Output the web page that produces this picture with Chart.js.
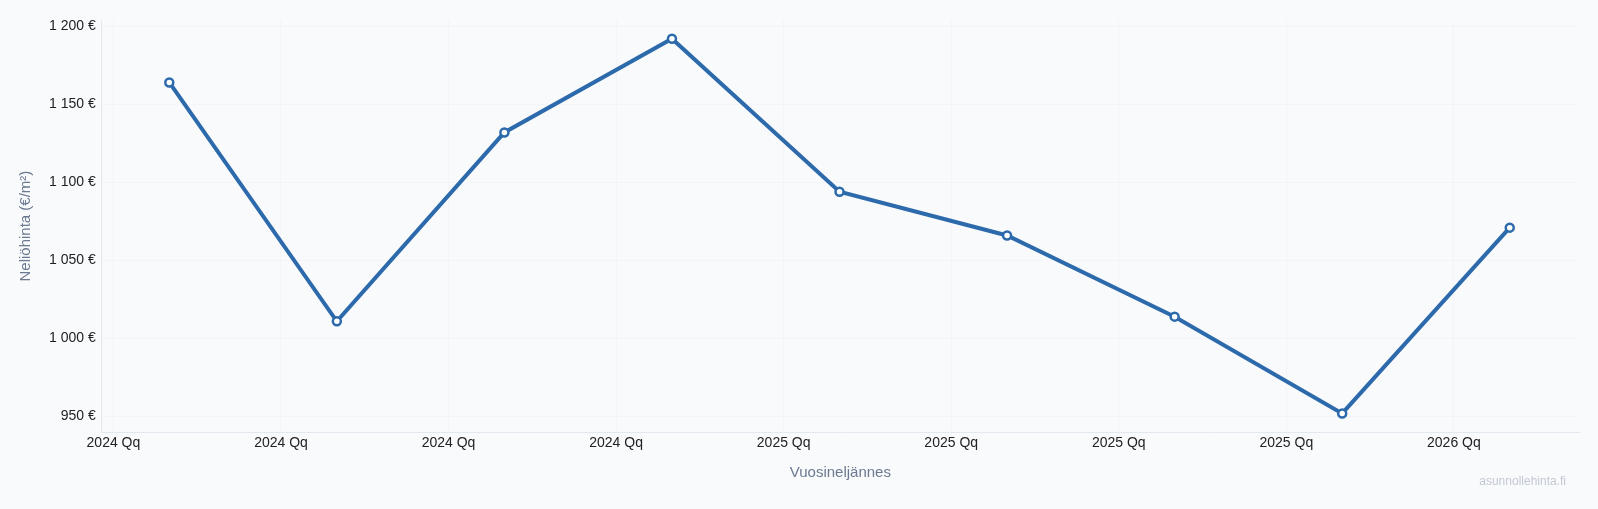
<!DOCTYPE html>
<html lang="fi">
<head>
<meta charset="utf-8">
<title>Neliöhinta</title>
<script src="https://cdn.jsdelivr.net/npm/chart.js@4.4.1/dist/chart.umd.min.js"></script>
<style>
    html, body { margin: 0; padding: 0; background: #f8fafc; }
    #wrap { width: 1598px; height: 509px; position: relative; }
</style>
</head>
<body>
<div id="wrap"><canvas id="priceChart"></canvas></div>
<script>
// Neljännesten tunnisteet (x-akselin tikit, 3 kk välein alkaen 2024-01)
const quarterLabels = ['2024 Qq', '2024 Qq', '2024 Qq', '2024 Qq', '2025 Qq', '2025 Qq', '2025 Qq', '2025 Qq', '2026 Qq'];
const quarterStartMonths = [0, 3, 6, 9, 12, 15, 18, 21, 24];
// Havaintojen ajankohdat (kuukautta 2024-01 jälkeen) ja neliöhinnat
const pointMonths = [1, 4, 7, 10, 13, 16, 19, 22, 25];
const prices = [1164, 1011, 1132, 1192, 1094, 1066, 1014, 952, 1071];

const fontFamily = '"Liberation Sans", Arial, Helvetica, sans-serif';
const minPrice = Math.min(...prices);
const maxPrice = Math.max(...prices);
const grace = (maxPrice - minPrice) * 0.05;

const formatEur = (v) => String(Math.round(v)).replace(/\B(?=(\d{3})+(?!\d))/g, ' ') + ' €';

// Vesileima oikeaan alakulmaan
const watermarkPlugin = {
    id: 'watermark',
    afterDraw(chart) {
        const {ctx, width} = chart;
        ctx.save();
        ctx.font = '12px ' + fontFamily;
        ctx.fillStyle = '#c3c9d2';
        ctx.textAlign = 'right';
        ctx.textBaseline = 'middle';
        ctx.fillText('asunnollehinta.fi', width - 32, 482);
        ctx.restore();
    }
};

const ctx = document.getElementById('priceChart').getContext('2d');
new Chart(ctx, {
    type: 'line',
    data: {
        datasets: [{
            label: 'Neliöhinta',
            data: pointMonths.map((m, i) => ({x: m, y: prices[i]})),
            borderColor: '#2c6aac',
            borderWidth: 4,
            tension: 0,
            pointRadius: 4,
            pointBorderWidth: 2.5,
            pointBackgroundColor: '#ffffff',
            pointBorderColor: '#2c6aac'
        }]
    },
    options: {
        responsive: true,
        maintainAspectRatio: false,
        animation: false,
        layout: {
            padding: { top: 20, right: 19, bottom: 27, left: 17 }
        },
        plugins: {
            legend: { display: false },
            tooltip: { enabled: false }
        },
        scales: {
            x: {
                type: 'linear',
                min: -0.21,
                max: 26.24,
                afterBuildTicks(scale) {
                    scale.ticks = quarterStartMonths.map(v => ({value: v}));
                },
                ticks: {
                    color: '#222222',
                    font: { family: fontFamily, size: 14 },
                    maxRotation: 0,
                    autoSkip: false,
                    padding: 3,
                    callback(value) {
                        const idx = quarterStartMonths.indexOf(value);
                        return idx >= 0 ? quarterLabels[idx] : '';
                    }
                },
                grid: {
                    color: 'rgba(100, 116, 139, 0.035)',
                    drawTicks: false
                },
                border: { color: '#e2e8f0' },
                title: {
                    display: true,
                    text: 'Vuosineljännes',
                    color: '#6b7a90',
                    font: { family: fontFamily, size: 15 },
                    padding: { top: 9, bottom: 0 }
                }
            },
            y: {
                min: minPrice - grace,
                max: maxPrice + grace,
                ticks: {
                    stepSize: 50,
                    includeBounds: false,
                    color: '#222222',
                    font: { family: fontFamily, size: 14 },
                    padding: 6,
                    callback: (value) => formatEur(value)
                },
                grid: {
                    color: 'rgba(100, 116, 139, 0.035)',
                    drawTicks: false
                },
                border: { color: '#e2e8f0' },
                title: {
                    display: true,
                    text: 'Neliöhinta (€/m²)',
                    color: '#6b7a90',
                    font: { family: fontFamily, size: 15 },
                    padding: { top: 0, bottom: 8 }
                }
            }
        }
    },
    plugins: [watermarkPlugin]
});
</script>
</body>
</html>
